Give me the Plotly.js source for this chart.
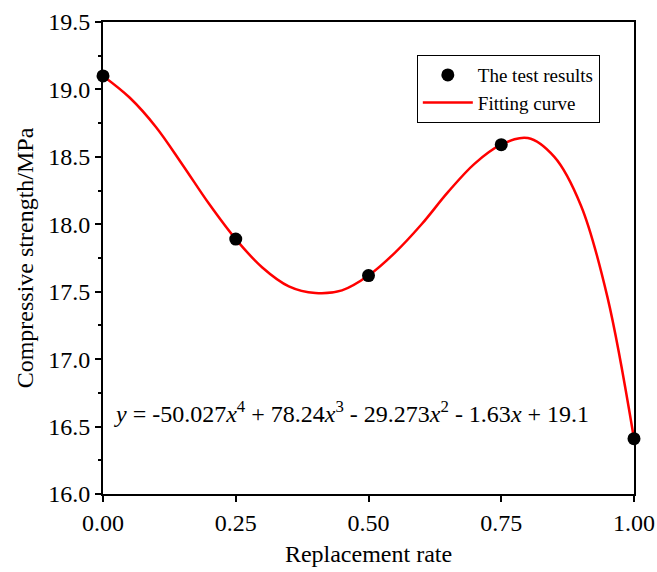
<!DOCTYPE html>
<html>
<head>
<meta charset="utf-8">
<script src="https://cdn.plot.ly/plotly-3.0.1.min.js"></script>
<style>html,body{margin:0;padding:0;background:#fff;}#chart{width:657px;height:572px;}</style>
</head>
<body>
<div id="chart"></div>
<script>
// Test results
const testX = [0, 0.25, 0.5, 0.75, 1.0];
const testY = [19.1, 17.89, 17.62, 18.59, 16.41];

// Fitting curve, points
const fitX = [0, 0.05, 0.1, 0.15, 0.2, 0.25, 0.3, 0.35, 0.4, 0.45, 0.5, 0.55, 0.6, 0.65, 0.7, 0.75, 0.8, 0.85, 0.9, 0.95, 1.0];
const fitY = [19.1, 18.94, 18.72, 18.44, 18.15, 17.89, 17.68, 17.54, 17.49, 17.51, 17.62, 17.79, 18.0, 18.24, 18.45, 18.59, 18.64, 18.50, 18.14, 17.46, 16.41];

const xTicks = [0, 0.25, 0.5, 0.75, 1.0];
const xTickText = ["0.00", "0.25", "0.50", "0.75", "1.00"];
const yTicks = [16.0, 16.5, 17.0, 17.5, 18.0, 18.5, 19.0, 19.5];
const yTickText = ["16.0", "16.5", "17.0", "17.5", "18.0", "18.5", "19.0", "19.5"];

const equation = "<i>y</i> = -50.027<i>x</i><sup>4</sup> + 78.24<i>x</i><sup>3</sup> - 29.273<i>x</i><sup>2</sup> - 1.63<i>x</i> + 19.1";

const font = "Liberation Serif";

const traces = [
  {
    x: fitX, y: fitY, type: "scatter", mode: "lines", name: "Fitting curve",
    line: {color: "#ff0000", width: 2.5, shape: "spline", smoothing: 1},
    cliponaxis: false
  },
  {
    x: testX, y: testY, type: "scatter", mode: "markers", name: "The test results",
    marker: {color: "#000000", size: 13},
    cliponaxis: false
  }
];

const layout = {
  width: 657, height: 572,
  margin: {l: 103, r: 23, t: 22, b: 78},
  paper_bgcolor: "#ffffff", plot_bgcolor: "#ffffff",
  font: {family: font, color: "#000", size: 22},
  showlegend: true,
  legend: {
    x: 0.591, y: 0.93, xanchor: "left", yanchor: "top",
    bordercolor: "#000", borderwidth: 1, bgcolor: "#fff",
    font: {family: font, size: 19, color: "#000"},
    traceorder: "reversed", tracegroupgap: 0, itemwidth: 50
  },
  xaxis: {
    range: [0, 1], tickvals: xTicks, ticktext: xTickText,
    showgrid: false, zeroline: false,
    showline: true, linecolor: "#000", linewidth: 2, mirror: true,
    ticks: "outside", ticklen: 6, tickwidth: 2, tickcolor: "#000",
    tickfont: {family: font, size: 24},
    title: {text: "Replacement rate", font: {family: font, size: 24}, standoff: 10}
  },
  yaxis: {
    range: [16.0, 19.5], tickvals: yTicks, ticktext: yTickText,
    showgrid: false, zeroline: false,
    showline: true, linecolor: "#000", linewidth: 2, mirror: true,
    ticks: "outside", ticklen: 6, tickwidth: 2, tickcolor: "#000",
    tickfont: {family: font, size: 24},
    minor: {dtick: 0.25, tick0: 16, ticks: "outside", ticklen: 3, tickwidth: 2, tickcolor: "#000", showgrid: false},
    title: {text: "Compressive strength/MPa", font: {family: font, size: 24}, standoff: 8}
  },
  annotations: [
    {
      x: 0.016, y: 16.61, xref: "x", yref: "y", xanchor: "left", yanchor: "middle",
      text: equation, showarrow: false,
      font: {family: font, size: 24, color: "#000"}
    }
  ]
};

Plotly.newPlot("chart", traces, layout, {displayModeBar: false, staticPlot: true});
</script>
</body>
</html>
